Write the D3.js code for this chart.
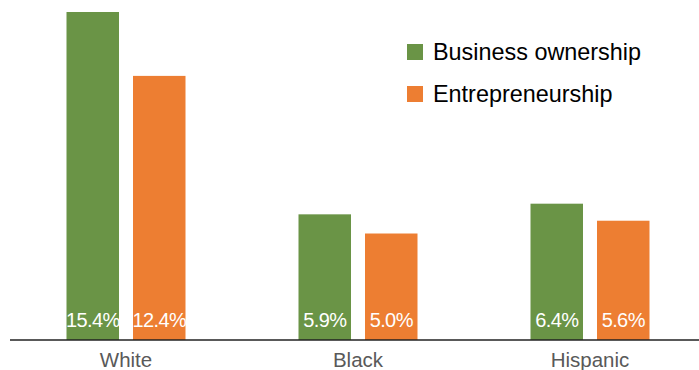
<!DOCTYPE html>
<html><head><meta charset="utf-8">
<script src="https://cdn.jsdelivr.net/npm/d3@7"></script>
<style>html,body{margin:0;padding:0;background:#fff;}svg{display:block;}</style>
</head><body>
<svg id="c" width="699" height="370"></svg>
<script>
const categories = ["White", "Black", "Hispanic"];
const seriesNames = ["Business ownership", "Entrepreneurship"];
const businessOwnership = [15.4, 5.9, 6.4];
const entrepreneurship = [12.4, 5.0, 5.6];
const valueLabels = [["15.4%", "5.9%", "6.4%"], ["12.4%", "5.0%", "5.6%"]];
const colors = ["#6A9446", "#ED7E32"];

const svg = d3.select("#c");
const font = "'Liberation Sans', Arial, sans-serif";
const seriesVals = [businessOwnership, entrepreneurship];

const x0 = d3.scaleBand().domain(categories).range([10, 706]);
const x1 = d3.scaleBand().domain(seriesNames).range([56.5, 175.5]).paddingInner(0.2105);
const y = d3.scaleLinear().domain([0, 15.4]).range([340, 12]);

const data = [];
categories.forEach((c, i) => seriesNames.forEach((s, j) => data.push({c, s, j, v: seriesVals[j][i], label: valueLabels[j][i]})));

svg.selectAll("rect.bar").data(data).enter().append("rect")
  .attr("class", "bar")
  .attr("x", d => x0(d.c) + x1(d.s))
  .attr("width", x1.bandwidth())
  .attr("y", d => y(d.v))
  .attr("height", d => y(0) - y(d.v))
  .attr("fill", d => colors[d.j]);

svg.selectAll("text.val").data(data).enter().append("text")
  .attr("class", "val")
  .attr("x", d => x0(d.c) + x1(d.s) + x1.bandwidth() / 2)
  .attr("y", 327)
  .attr("text-anchor", "middle")
  .attr("font-family", font).attr("font-size", 20)
  .attr("letter-spacing", -0.6)
  .attr("fill", "#fff")
  .text(d => d.label);

svg.append("line").attr("x1", 10).attr("x2", 699).attr("y1", 340).attr("y2", 340)
  .attr("stroke", "#222").attr("stroke-width", 1.3);

svg.selectAll("text.cat").data(categories).enter().append("text")
  .attr("class", "cat")
  .attr("x", d => x0(d) + x0.bandwidth() / 2)
  .attr("y", 366.5)
  .attr("text-anchor", "middle")
  .attr("font-family", font).attr("font-size", 20.5)
  .attr("fill", "#595959")
  .text(d => d);

const leg = svg.selectAll("g.leg").data(seriesNames).enter().append("g")
  .attr("class", "leg")
  .attr("transform", (d, i) => `translate(407,${44 + i * 42})`);
leg.append("rect").attr("width", 16).attr("height", 16).attr("fill", (d, i) => colors[i]);
leg.append("text").attr("x", 26).attr("y", 16)
  .attr("font-family", font).attr("font-size", 23.4).attr("fill", "#000")
  .text(d => d);
</script>
</body></html>
